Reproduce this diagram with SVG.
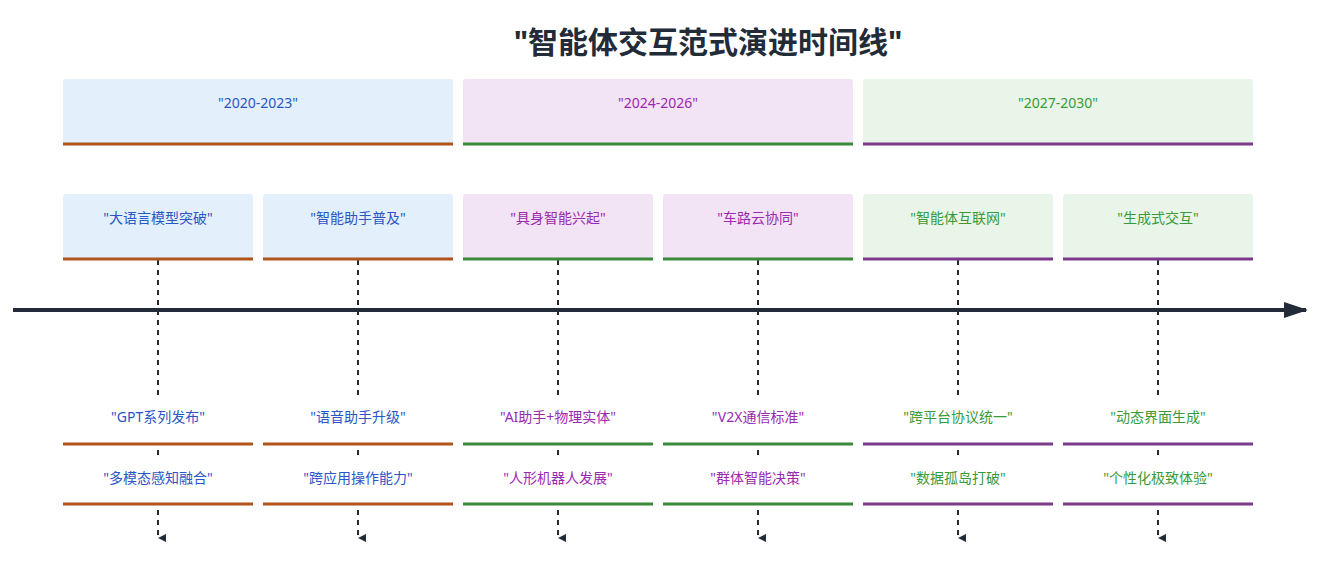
<svg xmlns="http://www.w3.org/2000/svg" width="1331" height="585" viewBox="0 0 1331 585">
<style>
text{font-family:"Noto Sans","Noto Sans CJK SC",sans-serif;font-size:14px;text-anchor:middle;dominant-baseline:central}
.title{font-size:30px;font-weight:bold;fill:#222b38}
.s1 rect{fill:#e3f0fc}.s1 text{fill:#2a56c6}.s1 line{stroke:#b0541a}
.s2 rect{fill:#f2e3f5}.s2 text{fill:#9a2ab0}.s2 line{stroke:#3b8a3b}
.s3 rect{fill:#e8f5e8}.s3 text{fill:#3a9a3a}.s3 line{stroke:#7b3a8a}
.ev rect{fill:#fff}
line.b{stroke-width:3}
.dash{stroke:#222b38;stroke-width:2;stroke-dasharray:5 5}
</style>
<defs>
<marker id="ah" markerWidth="8" markerHeight="8" refX="4" refY="8" orient="auto" markerUnits="userSpaceOnUse"><path d="M0,0L8,0L4,8z" fill="#222b38"/></marker>
<marker id="big" markerWidth="24" markerHeight="16" refX="22" refY="8" orient="auto" markerUnits="userSpaceOnUse"><path d="M0,0L24,8L0,16z" fill="#222b38"/></marker>
</defs>
<text class="title" x="708" y="41">"智能体交互范式演进时间线"</text>
<g id="connectors">
<line x1="13" y1="310" x2="1306" y2="310" stroke="#222b38" stroke-width="4" marker-end="url(#big)"/>
<line class="dash" x1="158" y1="260" x2="158" y2="538" marker-end="url(#ah)"/>
<line class="dash" x1="358" y1="260" x2="358" y2="538" marker-end="url(#ah)"/>
<line class="dash" x1="558" y1="260" x2="558" y2="538" marker-end="url(#ah)"/>
<line class="dash" x1="758" y1="260" x2="758" y2="538" marker-end="url(#ah)"/>
<line class="dash" x1="958" y1="260" x2="958" y2="538" marker-end="url(#ah)"/>
<line class="dash" x1="1158" y1="260" x2="1158" y2="538" marker-end="url(#ah)"/>
</g>
<g id="sec1" class="s1"><rect x="63" y="79" width="390" height="66" rx="3"/><line class="b" x1="63" y1="144" x2="453" y2="144"/><text x="258" y="102">"2020-2023"</text></g>
<g id="sec2" class="s2"><rect x="463" y="79" width="390" height="66" rx="3"/><line class="b" x1="463" y1="144" x2="853" y2="144"/><text x="658" y="102">"2024-2026"</text></g>
<g id="sec3" class="s3"><rect x="863" y="79" width="390" height="66" rx="3"/><line class="b" x1="863" y1="144" x2="1253" y2="144"/><text x="1058" y="102">"2027-2030"</text></g>

<g id="t1" class="s1"><rect x="63" y="194" width="190" height="66" rx="3"/><line class="b" x1="63" y1="259" x2="253" y2="259"/><text x="158" y="217">"大语言模型突破"</text></g>
<g id="t2" class="s1"><rect x="263" y="194" width="190" height="66" rx="3"/><line class="b" x1="263" y1="259" x2="453" y2="259"/><text x="358" y="217">"智能助手普及"</text></g>
<g id="t3" class="s2"><rect x="463" y="194" width="190" height="66" rx="3"/><line class="b" x1="463" y1="259" x2="653" y2="259"/><text x="558" y="217">"具身智能兴起"</text></g>
<g id="t4" class="s2"><rect x="663" y="194" width="190" height="66" rx="3"/><line class="b" x1="663" y1="259" x2="853" y2="259"/><text x="758" y="217">"车路云协同"</text></g>
<g id="t5" class="s3"><rect x="863" y="194" width="190" height="66" rx="3"/><line class="b" x1="863" y1="259" x2="1053" y2="259"/><text x="958" y="217">"智能体互联网"</text></g>
<g id="t6" class="s3"><rect x="1063" y="194" width="190" height="66" rx="3"/><line class="b" x1="1063" y1="259" x2="1253" y2="259"/><text x="1158" y="217">"生成式交互"</text></g>

<g id="e1a" class="s1 ev"><rect x="63" y="395" width="190" height="48"/><line class="b" x1="63" y1="444" x2="253" y2="444"/><text x="158" y="416">"GPT系列发布"</text></g>
<g id="e1b" class="s1 ev"><rect x="63" y="456" width="190" height="48"/><line class="b" x1="63" y1="504" x2="253" y2="504"/><text x="158" y="477">"多模态感知融合"</text></g>
<g id="e2a" class="s1 ev"><rect x="263" y="395" width="190" height="48"/><line class="b" x1="263" y1="444" x2="453" y2="444"/><text x="358" y="416">"语音助手升级"</text></g>
<g id="e2b" class="s1 ev"><rect x="263" y="456" width="190" height="48"/><line class="b" x1="263" y1="504" x2="453" y2="504"/><text x="358" y="477">"跨应用操作能力"</text></g>
<g id="e3a" class="s2 ev"><rect x="463" y="395" width="190" height="48"/><line class="b" x1="463" y1="444" x2="653" y2="444"/><text x="558" y="416">"AI助手+物理实体"</text></g>
<g id="e3b" class="s2 ev"><rect x="463" y="456" width="190" height="48"/><line class="b" x1="463" y1="504" x2="653" y2="504"/><text x="558" y="477">"人形机器人发展"</text></g>
<g id="e4a" class="s2 ev"><rect x="663" y="395" width="190" height="48"/><line class="b" x1="663" y1="444" x2="853" y2="444"/><text x="758" y="416">"V2X通信标准"</text></g>
<g id="e4b" class="s2 ev"><rect x="663" y="456" width="190" height="48"/><line class="b" x1="663" y1="504" x2="853" y2="504"/><text x="758" y="477">"群体智能决策"</text></g>
<g id="e5a" class="s3 ev"><rect x="863" y="395" width="190" height="48"/><line class="b" x1="863" y1="444" x2="1053" y2="444"/><text x="958" y="416">"跨平台协议统一"</text></g>
<g id="e5b" class="s3 ev"><rect x="863" y="456" width="190" height="48"/><line class="b" x1="863" y1="504" x2="1053" y2="504"/><text x="958" y="477">"数据孤岛打破"</text></g>
<g id="e6a" class="s3 ev"><rect x="1063" y="395" width="190" height="48"/><line class="b" x1="1063" y1="444" x2="1253" y2="444"/><text x="1158" y="416">"动态界面生成"</text></g>
<g id="e6b" class="s3 ev"><rect x="1063" y="456" width="190" height="48"/><line class="b" x1="1063" y1="504" x2="1253" y2="504"/><text x="1158" y="477">"个性化极致体验"</text></g>
</svg>
